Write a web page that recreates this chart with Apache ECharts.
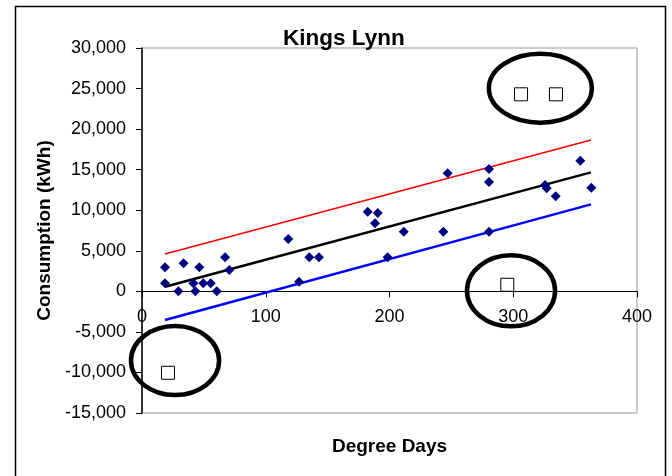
<!DOCTYPE html>
<html>
<head>
<meta charset="utf-8">
<script src="https://cdn.jsdelivr.net/npm/echarts@6/dist/echarts.min.js"></script>
<style>html,body{margin:0;padding:0;background:#fff;}#c{width:672px;height:476px;}</style>
</head>
<body>
<div id="c"></div>
<script>
// Observed points: [degree days, consumption kWh]
var observed = [
  [18.6, 2960], [18.6, 985], [29.4, 0], [33.6, 3450], [41.5, 985], [43.1, 0],
  [46.3, 2960], [49.5, 985], [55.5, 985], [60.4, 0], [67.1, 4190], [70.5, 2630],
  [118.2, 6450], [126.9, 1185], [135.2, 4190], [143.0, 4190],
  [182.4, 9800], [190.5, 9650], [188.3, 8380], [211.5, 7350], [198.5, 4200],
  [243.5, 7350], [247.0, 14550], [280.4, 15080], [280.4, 13480], [280.4, 7350],
  [325.7, 13100], [327.0, 12700], [334.3, 11710], [354.2, 16100], [363.1, 12770]
];
// Outliers (hollow squares)
var outliers = [[21, -10040], [295.2, 810], [306.3, 24290], [334.5, 24290]];
// Fitted line and band ends
var fitX = [18.6, 362.8];
var fitMid = [570, 14670];
var fitUpper = [4600, 18650];
var fitLower = [-3540, 10720];
// Annotation ellipses: [centre x, centre y, radius x, radius y] in data units
var rings = [[321.9, 25030, 41.6, 4253], [298.2, 60, 35.6, 4377], [26.7, -8530, 35.6, 4253]];
var xTicks = {min: 0, max: 400, interval: 100};
var yTicks = {min: -15000, max: 30000, interval: 5000};

function pairs(xs, ys) { return xs.map(function (x, i) { return [x, ys[i]]; }); }

var gridBox = {left: 142, right: 35, top: 48, bottom: 63};
var plotH = 476 - gridBox.top - gridBox.bottom;
// shift the x axis (line, ticks, labels, name) up to the y = 0 level
var xAxisOffset = -(0 - yTicks.min) / (yTicks.max - yTicks.min) * plotH;

var chart = echarts.init(document.getElementById('c'));
var font = 'Liberation Sans, Arial, sans-serif';
chart.setOption({
  animation: false,
  backgroundColor: '#fff',
  title: {
    text: 'Kings Lynn', left: 278, top: 22,
    textStyle: {fontFamily: font, fontSize: 22.5, fontWeight: 'bold', color: '#000'}
  },
  graphic: [{
    type: 'rect', left: 13, top: 4, z: -1,
    shape: {width: 650, height: 490},
    style: {fill: 'none', stroke: '#000', lineWidth: 1.5}
  }],
  grid: {left: gridBox.left, right: gridBox.right, top: gridBox.top, bottom: gridBox.bottom,
    show: true, borderColor: '#999', borderWidth: 1,
    backgroundColor: 'transparent', containLabel: false, outerBoundsMode: 'none'},
  xAxis: {
    type: 'value', min: xTicks.min, max: xTicks.max, interval: xTicks.interval,
    offset: xAxisOffset,
    name: 'Degree Days', nameLocation: 'middle', nameGap: 146,
    nameTextStyle: {fontFamily: font, fontSize: 19, fontWeight: 'bold', color: '#000'},
    axisLine: {show: true, onZero: false, lineStyle: {color: '#000', width: 1}},
    axisTick: {show: true, length: 6, lineStyle: {color: '#000'}},
    axisLabel: {margin: 17, fontFamily: font, fontSize: 18, color: '#000'},
    splitLine: {show: false}
  },
  yAxis: {
    type: 'value', min: yTicks.min, max: yTicks.max, interval: yTicks.interval,
    name: 'Consumption (kWh)', nameLocation: 'middle', nameGap: 84, nameRotate: 90,
    nameTextStyle: {fontFamily: font, fontSize: 19, fontWeight: 'bold', color: '#000'},
    axisLine: {show: true, onZero: false, lineStyle: {color: '#000', width: 1.5}},
    axisTick: {show: true, length: 6, lineStyle: {color: '#000'}},
    axisLabel: {margin: 16, fontFamily: font, fontSize: 18, color: '#000',
      formatter: function (v) { return v.toLocaleString('en-US'); }},
    splitLine: {show: false}
  },
  series: [
    {type: 'line', data: pairs(fitX, fitUpper), symbol: 'none', lineStyle: {color: '#ff0000', width: 1.5}, z: 2},
    {type: 'line', data: pairs(fitX, fitLower), symbol: 'none', lineStyle: {color: '#0000ff', width: 2.5}, z: 2},
    {type: 'line', data: pairs(fitX, fitMid), symbol: 'none', lineStyle: {color: '#000', width: 2.5}, z: 2},
    {type: 'scatter', data: observed, symbol: 'diamond', symbolSize: 10, itemStyle: {color: '#000080', opacity: 1}, z: 3},
    {type: 'scatter', data: outliers, symbol: 'rect', symbolSize: 13, itemStyle: {color: '#fff', borderColor: '#000', borderWidth: 1, opacity: 1}, z: 4},
    {type: 'custom', data: rings, z: 5, clip: false,
      renderItem: function (params, api) {
        var c = api.coord([api.value(0), api.value(1)]);
        var s = api.size([api.value(2), api.value(3)]);
        return {type: 'ellipse', shape: {cx: c[0], cy: c[1], rx: s[0], ry: s[1]},
          style: {fill: 'none', stroke: '#000', lineWidth: 4.5}};
      }}
  ]
});
</script>
</body>
</html>
